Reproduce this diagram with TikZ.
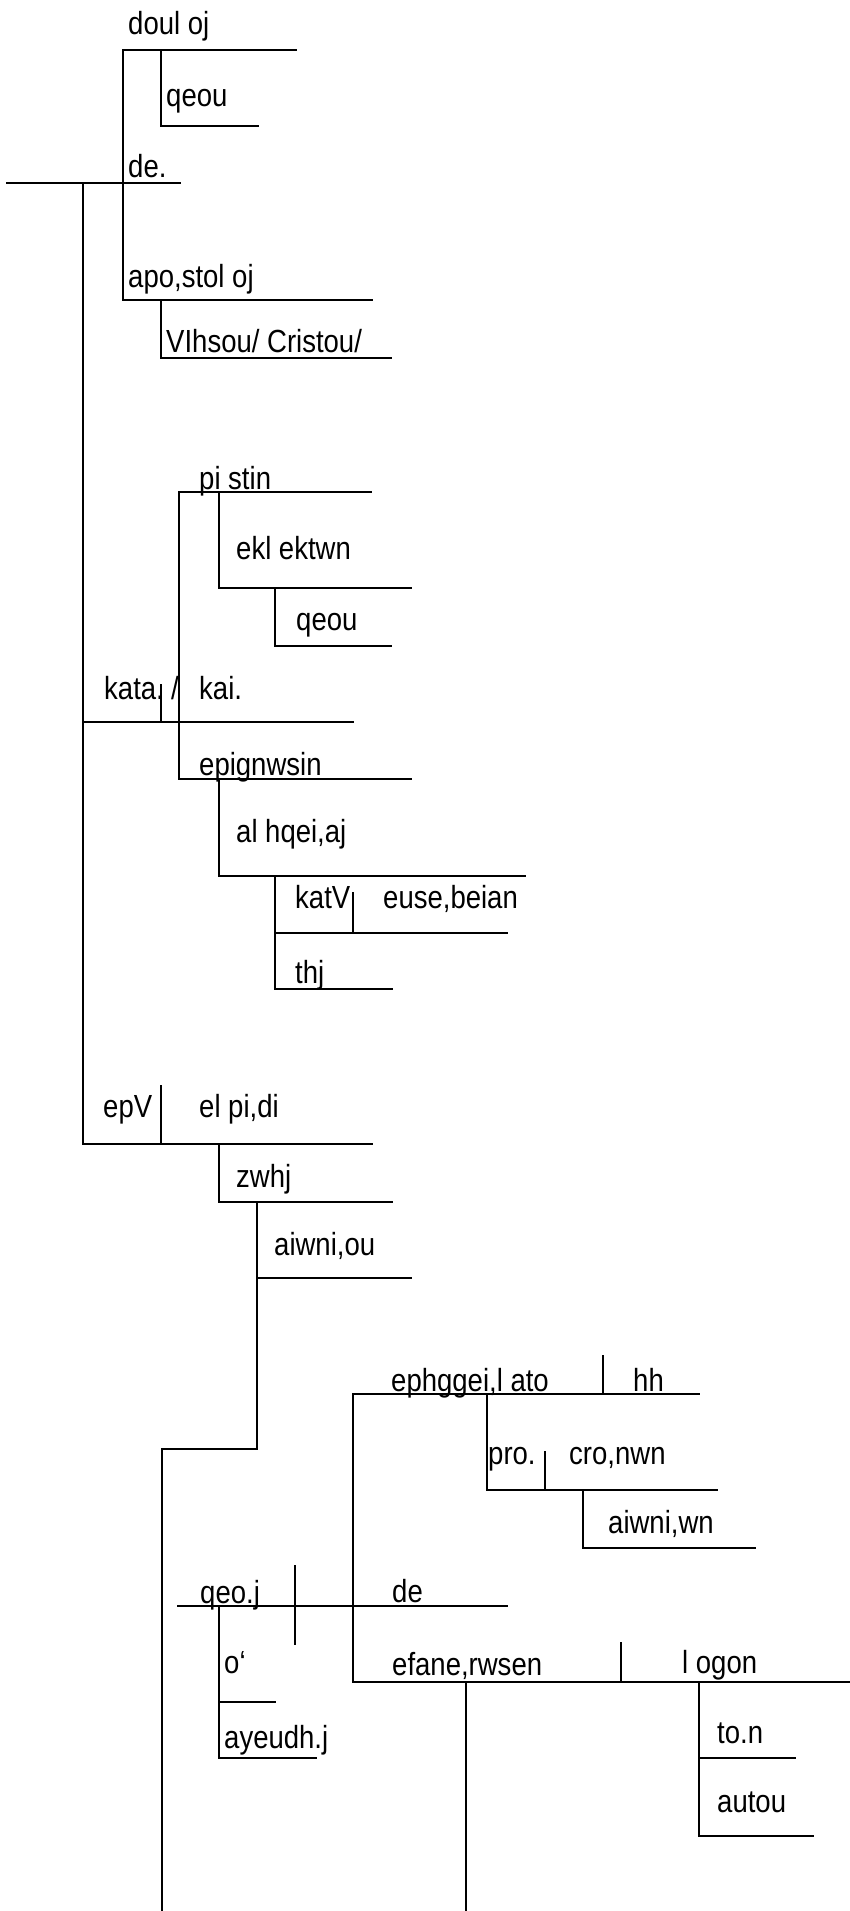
\documentclass[tikz,border=0pt]{standalone}
\usepackage{fontspec}
\setmainfont{Liberation Sans}[FakeStretch=0.86]
\usepackage{tikz}

\begin{document}
\begin{tikzpicture}[x=1pt,y=-1pt]

\tikzset{word/.style = {anchor=base west,inner sep=0pt,font=\fontsize{32}{36}\selectfont}}
\tikzset{rule/.style = {line width=1.2pt,line cap=rect}}
\useasboundingbox (0,0) rectangle (849,1911);

% words
\node[word] (doulos) at (128,35) {doul oj};
\node[word] (theou1) at (166,106) {qeou};
\node[word] (de1) at (128,177) {de.};
\node[word] (apostolos) at (128,287) {apo,stol oj};
\node[word] (iesou) at (166,352) {VIhsou/ Cristou/};
\node[word] (pistin) at (199,489) {pi stin};
\node[word] (eklekton) at (236,559) {ekl ektwn};
\node[word] (theou2) at (296,630) {qeou};
\node[word] (kata) at (104,699) {kata.};
\node[word] (slash) at (171,699) {/};
\node[word] (kai) at (199,699) {kai.};
\node[word] (epignosin) at (199,775) {epignwsin};
\node[word] (aletheias) at (236,842) {al hqei,aj};
\node[word] (katV) at (295,908) {katV};
\node[word] (eusebeian) at (383,908) {euse,beian};
\node[word] (tes) at (295,983) {thj};
\node[word] (epV) at (103,1117) {epV};
\node[word] (elpidi) at (199,1117) {el pi,di};
\node[word] (zoes) at (236,1187) {zwhj};
\node[word] (aioniou) at (274,1255) {aiwni,ou};
\node[word] (epengeilato) at (391,1391) {ephggei,l ato};
\node[word] (hh) at (633,1391) {hh};
\node[word] (pro) at (488,1464) {pro.};
\node[word] (chronon) at (569,1464) {cro,nwn};
\node[word] (aionion) at (608,1533) {aiwni,wn};
\node[word] (theos) at (200,1603) {qeo.j};
\node[word] (de2) at (392,1602) {de};
\node[word] (ho) at (224,1673) {o`};
\node[word] (apseudes) at (224,1748) {ayeudh.j};
\node[word] (ephanerosen) at (392,1675) {efane,rwsen};
\node[word] (logon) at (682,1673) {l ogon};
\node[word] (ton) at (717,1743) {to.n};
\node[word] (autou) at (717,1812) {autou};

% lines
\draw[rule] (7,183) -- (180,183);
\draw[rule] (83,183) -- (83,1144);
\draw[rule] (123,50) -- (296,50);
\draw[rule] (123,50) -- (123,300);
\draw[rule] (161,50) -- (161,126) -- (258,126);
\draw[rule] (123,300) -- (372,300);
\draw[rule] (161,300) -- (161,358) -- (391,358);

\draw[rule] (179,492) -- (371,492);
\draw[rule] (179,492) -- (179,779);
\draw[rule] (219,492) -- (219,588) -- (411,588);
\draw[rule] (275,588) -- (275,646) -- (391,646);
\draw[rule] (83,722) -- (353,722);
\draw[rule] (161,685) -- (161,722);
\draw[rule] (179,779) -- (411,779);
\draw[rule] (219,779) -- (219,876) -- (525,876);
\draw[rule] (275,876) -- (275,989) -- (392,989);
\draw[rule] (275,933) -- (507,933);
\draw[rule] (353,893) -- (353,933);

\draw[rule] (83,1144) -- (372,1144);
\draw[rule] (161,1086) -- (161,1144);
\draw[rule] (219,1144) -- (219,1202) -- (392,1202);
\draw[rule] (257,1202) -- (257,1449) -- (162,1449) -- (162,1911);
\draw[rule] (257,1278) -- (411,1278);

\draw[rule] (353,1394) -- (699,1394);
\draw[rule] (353,1394) -- (353,1682);
\draw[rule] (603,1356) -- (603,1394);
\draw[rule] (487,1394) -- (487,1490) -- (717,1490);
\draw[rule] (545,1452) -- (545,1490);
\draw[rule] (583,1490) -- (583,1548) -- (755,1548);

\draw[rule] (178,1606) -- (507,1606);
\draw[rule] (295,1566) -- (295,1644);
\draw[rule] (219,1606) -- (219,1758) -- (316,1758);
\draw[rule] (219,1702) -- (275,1702);
\draw[rule] (353,1682) -- (849,1682);
\draw[rule] (466,1682) -- (466,1911);
\draw[rule] (621,1643) -- (621,1682);
\draw[rule] (699,1682) -- (699,1836) -- (813,1836);
\draw[rule] (699,1758) -- (795,1758);
\end{tikzpicture}
\end{document}
